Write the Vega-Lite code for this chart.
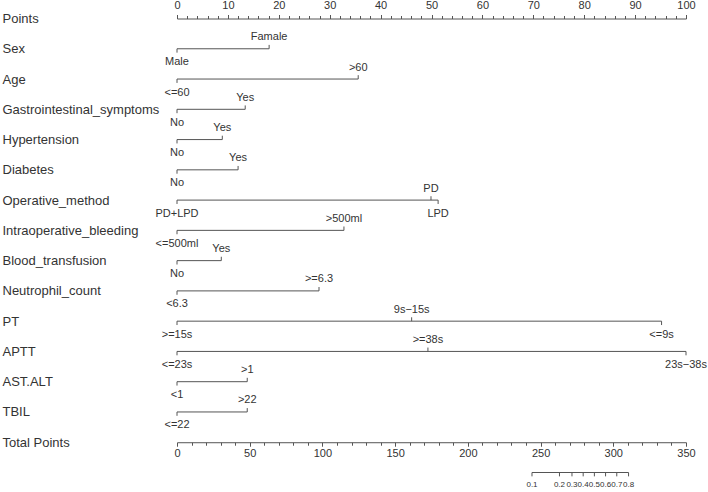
{
  "$schema": "https://vega.github.io/schema/vega-lite/v6.json",
  "width": 509,
  "height": 454,
  "autosize": {"type": "none"},
  "padding": {"left": 177, "top": 18.5, "right": 22, "bottom": 19.5},
  "background": "white",
  "config": {"view": {"stroke": null}, "font": "Liberation Sans", "axis": {"grid": false, "labelOverlap": false, "labelFlush": false}},
  "datasets": {
    "segments": [
      {"row": "Sex", "start": 0, "end": 18.1},
      {"row": "Age", "start": 0, "end": 35.6},
      {"row": "Gastrointestinal_symptoms", "start": 0, "end": 13.4},
      {"row": "Hypertension", "start": 0, "end": 8.9},
      {"row": "Diabetes", "start": 0, "end": 12.0},
      {"row": "Operative_method", "start": 0, "end": 51.3},
      {"row": "Intraoperative_bleeding", "start": 0, "end": 32.8},
      {"row": "Blood_transfusion", "start": 0, "end": 8.7},
      {"row": "Neutrophil_count", "start": 0, "end": 27.9},
      {"row": "PT", "start": 0, "end": 95.2},
      {"row": "APTT", "start": 0, "end": 100},
      {"row": "AST.ALT", "start": 0, "end": 13.8},
      {"row": "TBIL", "start": 0, "end": 13.8}
    ],
    "levels": [
      {"row": "Sex", "pts": 0, "label": "Male", "pos": "below"},
      {"row": "Sex", "pts": 18.1, "label": "Famale", "pos": "above"},
      {"row": "Age", "pts": 0, "label": "<=60", "pos": "below"},
      {"row": "Age", "pts": 35.6, "label": ">60", "pos": "above"},
      {"row": "Gastrointestinal_symptoms", "pts": 0, "label": "No", "pos": "below"},
      {"row": "Gastrointestinal_symptoms", "pts": 13.4, "label": "Yes", "pos": "above"},
      {"row": "Hypertension", "pts": 0, "label": "No", "pos": "below"},
      {"row": "Hypertension", "pts": 8.9, "label": "Yes", "pos": "above"},
      {"row": "Diabetes", "pts": 0, "label": "No", "pos": "below"},
      {"row": "Diabetes", "pts": 12.0, "label": "Yes", "pos": "above"},
      {"row": "Operative_method", "pts": 0, "label": "PD+LPD", "pos": "below"},
      {"row": "Operative_method", "pts": 49.9, "label": "PD", "pos": "above"},
      {"row": "Operative_method", "pts": 51.3, "label": "LPD", "pos": "below"},
      {"row": "Intraoperative_bleeding", "pts": 0, "label": "<=500ml", "pos": "below"},
      {"row": "Intraoperative_bleeding", "pts": 32.8, "label": ">500ml", "pos": "above"},
      {"row": "Blood_transfusion", "pts": 0, "label": "No", "pos": "below"},
      {"row": "Blood_transfusion", "pts": 8.7, "label": "Yes", "pos": "above"},
      {"row": "Neutrophil_count", "pts": 0, "label": "<6.3", "pos": "below"},
      {"row": "Neutrophil_count", "pts": 27.9, "label": ">=6.3", "pos": "above"},
      {"row": "PT", "pts": 0, "label": ">=15s", "pos": "below"},
      {"row": "PT", "pts": 46.1, "label": "9s−15s", "pos": "above"},
      {"row": "PT", "pts": 95.2, "label": "<=9s", "pos": "below"},
      {"row": "APTT", "pts": 0, "label": "<=23s", "pos": "below"},
      {"row": "APTT", "pts": 49.3, "label": ">=38s", "pos": "above"},
      {"row": "APTT", "pts": 100, "label": "23s−38s", "pos": "below"},
      {"row": "AST.ALT", "pts": 0, "label": "<1", "pos": "below"},
      {"row": "AST.ALT", "pts": 13.8, "label": ">1", "pos": "above"},
      {"row": "TBIL", "pts": 0, "label": "<=22", "pos": "below"},
      {"row": "TBIL", "pts": 13.8, "label": ">22", "pos": "above"}
    ],
    "probseg": [
      {"row": "Prob", "start": 244.1, "end": 310.5}
    ],
    "prob": [
      {"row": "Prob", "tp": 244.1, "label": "0.1"},
      {"row": "Prob", "tp": 263.0, "label": "0.2"},
      {"row": "Prob", "tp": 271.6, "label": "0.3"},
      {"row": "Prob", "tp": 279.3, "label": "0.4"},
      {"row": "Prob", "tp": 287.0, "label": "0.5"},
      {"row": "Prob", "tp": 294.7, "label": "0.6"},
      {"row": "Prob", "tp": 302.4, "label": "0.7"},
      {"row": "Prob", "tp": 310.5, "label": "0.8"}
    ]
  },
  "layer": [
    {
      "layer": [
        {
          "data": {"name": "segments"},
          "mark": {"type": "rule", "color": "#555555", "strokeWidth": 1},
          "encoding": {
            "x": {
              "field": "start", "type": "quantitative",
              "scale": {"domain": [0, 100], "nice": false, "zero": false},
              "axis": {
                "orient": "top", "title": null,
                "values": [0,2,4,6,8,10,12,14,16,18,20,22,24,26,28,30,32,34,36,38,40,42,44,46,48,50,52,54,56,58,60,62,64,66,68,70,72,74,76,78,80,82,84,86,88,90,92,94,96,98,100],
                "labelExpr": "datum.value % 10 === 0 ? datum.label : ''",
                "labelOverlap": false, "labelFlush": false,
                "tickSize": {"condition": {"test": "datum.value % 10 === 0", "value": 4}, "value": 3},
                "labelPadding": 4, "labelFontSize": 11, "labelColor": "#333333",
                "domainColor": "#555555", "tickColor": "#555555", "grid": false
              }
            },
            "x2": {"field": "end"},
            "y": {
              "field": "row", "type": "nominal",
              "scale": {"type": "point", "padding": 0, "domain": ["Points","Sex","Age","Gastrointestinal_symptoms","Hypertension","Diabetes","Operative_method","Intraoperative_bleeding","Blood_transfusion","Neutrophil_count","PT","APTT","AST.ALT","TBIL","Total Points","Prob"]},
              "axis": {
                "orient": "left", "title": null, "ticks": false, "tickSize": 0, "domain": false,
                "labelAlign": "left", "labelPadding": 175, "labelBaseline": "middle",
                "labelFontSize": 13, "labelColor": "#333333", "labelFont": "Liberation Sans",
                "labelExpr": "datum.value === 'Prob' ? '' : datum.value", "labelOverlap": false
              }
            }
          }
        },
        {
          "data": {"name": "levels"},
          "transform": [{"filter": {"field": "pos", "equal": "above"}}],
          "mark": {"type": "point", "shape": "M0,-1L0,0", "size": 60, "filled": false, "stroke": "#555555", "strokeWidth": 1, "opacity": 1},
          "encoding": {
            "x": {
              "field": "pts", "type": "quantitative",
              "scale": {"domain": [0, 100], "nice": false, "zero": false},
              "axis": {
                "orient": "top", "title": null,
                "values": [0,2,4,6,8,10,12,14,16,18,20,22,24,26,28,30,32,34,36,38,40,42,44,46,48,50,52,54,56,58,60,62,64,66,68,70,72,74,76,78,80,82,84,86,88,90,92,94,96,98,100],
                "labelExpr": "datum.value % 10 === 0 ? datum.label : ''",
                "labelOverlap": false, "labelFlush": false,
                "tickSize": {"condition": {"test": "datum.value % 10 === 0", "value": 4}, "value": 3},
                "labelPadding": 4, "labelFontSize": 11, "labelColor": "#333333",
                "domainColor": "#555555", "tickColor": "#555555", "grid": false
              }
            },
            "y": {"field": "row", "type": "nominal"}
          }
        },
        {
          "data": {"name": "levels"},
          "transform": [{"filter": {"field": "pos", "equal": "below"}}],
          "mark": {"type": "point", "shape": "M0,0L0,1", "size": 60, "filled": false, "stroke": "#555555", "strokeWidth": 1, "opacity": 1},
          "encoding": {
            "x": {
              "field": "pts", "type": "quantitative",
              "scale": {"domain": [0, 100], "nice": false, "zero": false},
              "axis": {
                "orient": "top", "title": null,
                "values": [0,2,4,6,8,10,12,14,16,18,20,22,24,26,28,30,32,34,36,38,40,42,44,46,48,50,52,54,56,58,60,62,64,66,68,70,72,74,76,78,80,82,84,86,88,90,92,94,96,98,100],
                "labelExpr": "datum.value % 10 === 0 ? datum.label : ''",
                "labelOverlap": false, "labelFlush": false,
                "tickSize": {"condition": {"test": "datum.value % 10 === 0", "value": 4}, "value": 3},
                "labelPadding": 4, "labelFontSize": 11, "labelColor": "#333333",
                "domainColor": "#555555", "tickColor": "#555555", "grid": false
              }
            },
            "y": {"field": "row", "type": "nominal"}
          }
        },
        {
          "data": {"name": "levels"},
          "transform": [{"filter": {"field": "pos", "equal": "above"}}],
          "mark": {"type": "text", "fontSize": 11, "color": "#333333", "align": "center", "baseline": "alphabetic", "dy": -8.5},
          "encoding": {
            "x": {
              "field": "pts", "type": "quantitative",
              "scale": {"domain": [0, 100], "nice": false, "zero": false},
              "axis": {
                "orient": "top", "title": null,
                "values": [0,2,4,6,8,10,12,14,16,18,20,22,24,26,28,30,32,34,36,38,40,42,44,46,48,50,52,54,56,58,60,62,64,66,68,70,72,74,76,78,80,82,84,86,88,90,92,94,96,98,100],
                "labelExpr": "datum.value % 10 === 0 ? datum.label : ''",
                "labelOverlap": false, "labelFlush": false,
                "tickSize": {"condition": {"test": "datum.value % 10 === 0", "value": 4}, "value": 3},
                "labelPadding": 4, "labelFontSize": 11, "labelColor": "#333333",
                "domainColor": "#555555", "tickColor": "#555555", "grid": false
              }
            },
            "y": {"field": "row", "type": "nominal"},
            "text": {"field": "label"}
          }
        },
        {
          "data": {"name": "levels"},
          "transform": [{"filter": {"field": "pos", "equal": "below"}}],
          "mark": {"type": "text", "fontSize": 11, "color": "#333333", "align": "center", "baseline": "alphabetic", "dy": 16.5},
          "encoding": {
            "x": {
              "field": "pts", "type": "quantitative",
              "scale": {"domain": [0, 100], "nice": false, "zero": false},
              "axis": {
                "orient": "top", "title": null,
                "values": [0,2,4,6,8,10,12,14,16,18,20,22,24,26,28,30,32,34,36,38,40,42,44,46,48,50,52,54,56,58,60,62,64,66,68,70,72,74,76,78,80,82,84,86,88,90,92,94,96,98,100],
                "labelExpr": "datum.value % 10 === 0 ? datum.label : ''",
                "labelOverlap": false, "labelFlush": false,
                "tickSize": {"condition": {"test": "datum.value % 10 === 0", "value": 4}, "value": 3},
                "labelPadding": 4, "labelFontSize": 11, "labelColor": "#333333",
                "domainColor": "#555555", "tickColor": "#555555", "grid": false
              }
            },
            "y": {"field": "row", "type": "nominal"},
            "text": {"field": "label"}
          }
        }
      ]
    },
    {
      "layer": [
        {
          "data": {"name": "probseg"},
          "mark": {"type": "rule", "color": "#555555", "strokeWidth": 1},
          "encoding": {
            "x": {
              "field": "start", "type": "quantitative",
              "scale": {"domain": [0, 350], "nice": false, "zero": false},
              "axis": {
                "orient": "bottom", "offset": -30.27, "title": null,
                "values": [0,10,20,30,40,50,60,70,80,90,100,110,120,130,140,150,160,170,180,190,200,210,220,230,240,250,260,270,280,290,300,310,320,330,340,350],
                "labelExpr": "datum.value % 50 === 0 ? datum.label : ''",
                "labelOverlap": false, "labelFlush": false,
                "tickSize": {"condition": {"test": "datum.value % 50 === 0", "value": 4}, "value": 3},
                "labelPadding": 1, "labelFontSize": 11, "labelColor": "#333333",
                "domainColor": "#555555", "tickColor": "#555555", "grid": false
              }
            },
            "x2": {"field": "end"},
            "y": {"field": "row", "type": "nominal"}
          }
        },
        {
          "data": {"name": "prob"},
          "mark": {"type": "point", "shape": "M0,0L0,1", "size": 60, "filled": false, "stroke": "#555555", "strokeWidth": 1, "opacity": 1},
          "encoding": {
            "x": {
              "field": "tp", "type": "quantitative",
              "scale": {"domain": [0, 350], "nice": false, "zero": false},
              "axis": {
                "orient": "bottom", "offset": -30.27, "title": null,
                "values": [0,10,20,30,40,50,60,70,80,90,100,110,120,130,140,150,160,170,180,190,200,210,220,230,240,250,260,270,280,290,300,310,320,330,340,350],
                "labelExpr": "datum.value % 50 === 0 ? datum.label : ''",
                "labelOverlap": false, "labelFlush": false,
                "tickSize": {"condition": {"test": "datum.value % 50 === 0", "value": 4}, "value": 3},
                "labelPadding": 1, "labelFontSize": 11, "labelColor": "#333333",
                "domainColor": "#555555", "tickColor": "#555555", "grid": false
              }
            },
            "y": {"field": "row", "type": "nominal"}
          }
        },
        {
          "data": {"name": "prob"},
          "mark": {"type": "text", "fontSize": 8, "color": "#333333", "align": "center", "baseline": "alphabetic", "dy": 14},
          "encoding": {
            "x": {
              "field": "tp", "type": "quantitative",
              "scale": {"domain": [0, 350], "nice": false, "zero": false},
              "axis": {
                "orient": "bottom", "offset": -30.27, "title": null,
                "values": [0,10,20,30,40,50,60,70,80,90,100,110,120,130,140,150,160,170,180,190,200,210,220,230,240,250,260,270,280,290,300,310,320,330,340,350],
                "labelExpr": "datum.value % 50 === 0 ? datum.label : ''",
                "labelOverlap": false, "labelFlush": false,
                "tickSize": {"condition": {"test": "datum.value % 50 === 0", "value": 4}, "value": 3},
                "labelPadding": 1, "labelFontSize": 11, "labelColor": "#333333",
                "domainColor": "#555555", "tickColor": "#555555", "grid": false
              }
            },
            "y": {"field": "row", "type": "nominal"},
            "text": {"field": "label"}
          }
        }
      ]
    }
  ],
  "resolve": {"scale": {"x": "independent"}}
}
